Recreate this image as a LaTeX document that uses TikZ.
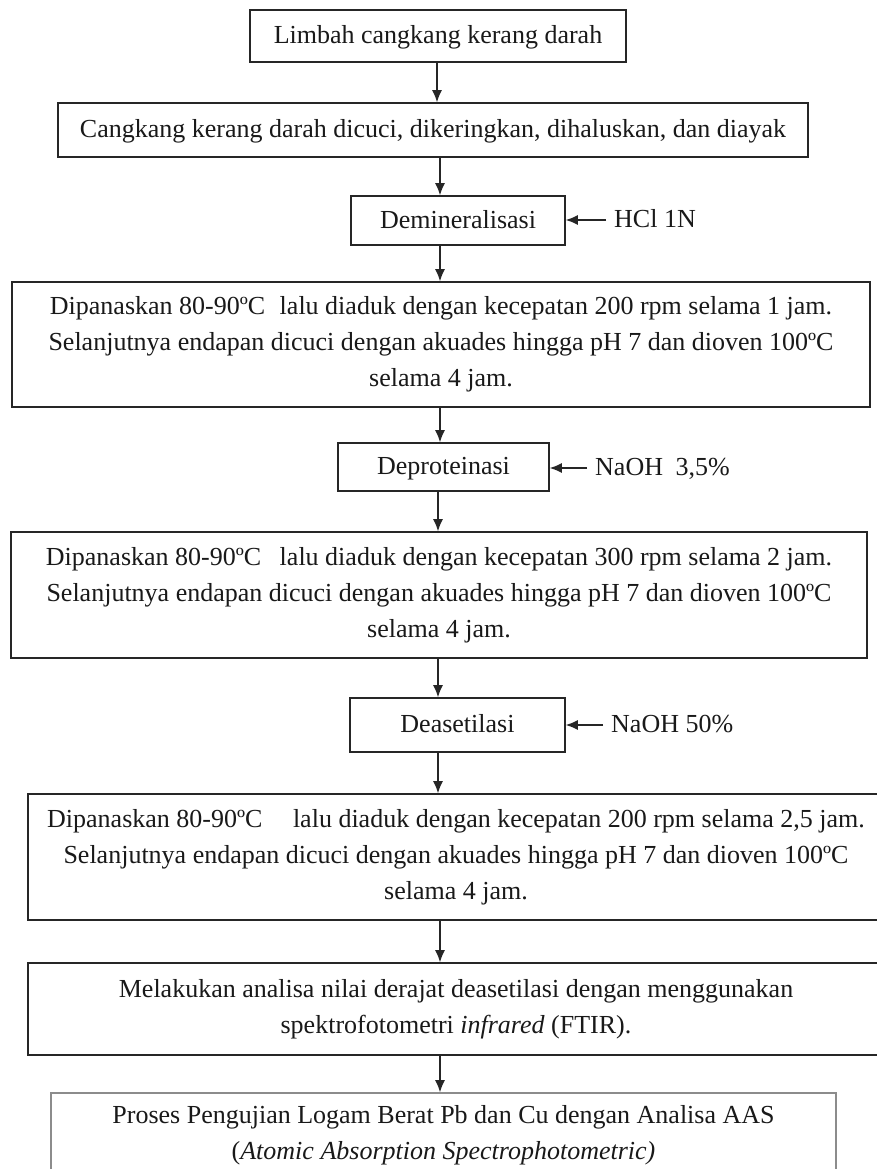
\documentclass[tikz,border=0pt]{standalone}
\usepackage{fontspec}
\setmainfont{Liberation Serif}
\usetikzlibrary{arrows.meta}
\tikzset{
  box/.style={draw=black!85, line width=1.6pt, align=center, inner sep=0pt,
    font=\fontsize{26}{36}\selectfont, text=black!90},
  one/.style={text height=19pt, text depth=4pt},
  graybox/.style={box, draw=black!45},
  lbl/.style={anchor=west, inner xsep=8pt, inner ysep=0pt, text height=19pt, text depth=4pt,
    font=\fontsize{26}{36}\selectfont, text=black!90},
  arr/.style={draw=black!85, line width=1.3pt, -{Latex[length=12pt,width=10pt]}}
}
\begin{document}
\begin{tikzpicture}[x=1pt,y=-1pt]
\useasboundingbox (0,0) rectangle (876,1169);
\fill[white] (0,0) rectangle (876,1169);

\node[box, one, minimum width=376pt, minimum height=52pt] (b1) at (438,36) {Limbah cangkang kerang darah};
\node[box, one, minimum width=750pt, minimum height=54pt] (b2) at (433,130) {Cangkang kerang darah dicuci, dikeringkan, dihaluskan, dan diayak};
\node[box, one, minimum width=214pt, minimum height=49pt] (b3) at (458,220.5) {Demineralisasi};
\node[box, minimum width=858pt, minimum height=125pt] (b4) at (441,344.5) {Dipanaskan 80-90ºC\hspace{8pt} lalu diaduk dengan kecepatan 200 rpm selama 1 jam.\\ Selanjutnya endapan dicuci dengan akuades hingga pH 7 dan dioven 100ºC\\ selama 4 jam.};
\node[box, one, minimum width=211pt, minimum height=48pt] (b5) at (443.5,467) {Deproteinasi};
\node[box, minimum width=856pt, minimum height=126pt] (b6) at (439,595) {Dipanaskan 80-90ºC\hspace{12pt} lalu diaduk dengan kecepatan 300 rpm selama 2 jam.\\ Selanjutnya endapan dicuci dengan akuades hingga pH 7 dan dioven 100ºC\\ selama 4 jam.};
\node[box, one, minimum width=215pt, minimum height=54pt] (b7) at (457.5,725) {Deasetilasi};
\node[box, minimum width=856pt, minimum height=126pt] (b8) at (456,857) {Dipanaskan 80-90ºC\hspace{24pt} lalu diaduk dengan kecepatan 200 rpm selama 2,5 jam.\\ Selanjutnya endapan dicuci dengan akuades hingga pH 7 dan dioven 100ºC\\ selama 4 jam.};
\node[box, minimum width=856pt, minimum height=92pt] (b9) at (456,1009) {Melakukan analisa nilai derajat deasetilasi dengan menggunakan\\ spektrofotometri \textit{infrared} (FTIR).};
\node[graybox, minimum width=785pt, minimum height=84pt] (b10) at (443.5,1135) {Proses Pengujian Logam Berat Pb dan Cu dengan Analisa AAS\\ (\textit{Atomic Absorption Spectrophotometric)}};

\node[lbl] (l1) at (606,220) {HCl 1N};
\node[lbl] (l2) at (587,468) {NaOH\hspace{6pt} 3,5\%};
\node[lbl] (l3) at (603,725) {NaOH 50\%};

\coordinate (sa) at (437,0);
\coordinate (sb) at (440,0);
\coordinate (sc) at (438,0);
\draw[arr] (b1.south -| sa) -- (b2.north -| sa);
\draw[arr] (b2.south -| sb) -- (b3.north -| sb);
\draw[arr] (b3.south -| sb) -- (b4.north -| sb);
\draw[arr] (b4.south -| sb) -- (b5.north -| sb);
\draw[arr] (b5.south -| sc) -- (b6.north -| sc);
\draw[arr] (b6.south -| sc) -- (b7.north -| sc);
\draw[arr] (b7.south -| sc) -- (b8.north -| sc);
\draw[arr] (b8.south -| sb) -- (b9.north -| sb);
\draw[arr] (b9.south -| sb) -- (b10.north -| sb);

\draw[arr] (l1.west) -- (l1.west -| b3.east);
\draw[arr] (l2.west) -- (l2.west -| b5.east);
\draw[arr] (l3.west) -- (l3.west -| b7.east);
\end{tikzpicture}
\end{document}
